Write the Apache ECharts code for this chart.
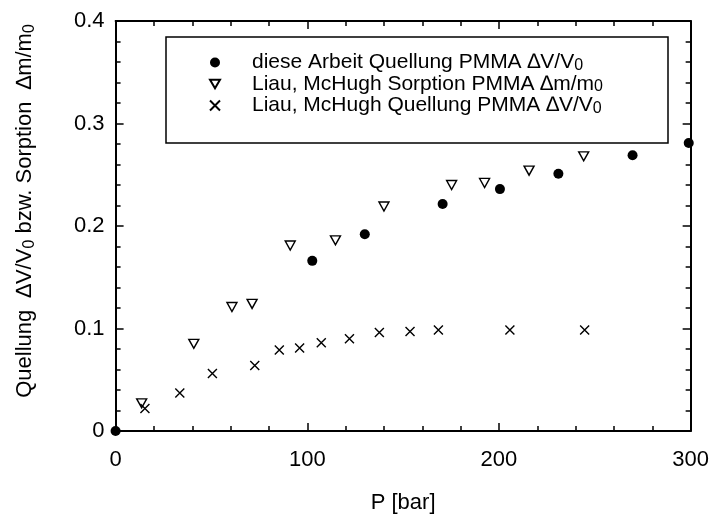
<!DOCTYPE html>
<html>
<head>
<meta charset="utf-8">
<script src="https://cdn.jsdelivr.net/npm/echarts@6/dist/echarts.min.js"></script>
<style>html,body{margin:0;padding:0;background:#fff;}#chart{width:712px;height:519px;}</style>
</head>
<body>
<div id="chart"></div>
<script>
// ---- data ----
const xTicks = [0, 100, 200, 300];
const yTicks = [0, 0.1, 0.2, 0.3, 0.4];

const arbeitP = [0, 102.6, 130, 170.6, 200.5, 231, 269.7, 299];
const arbeitV = [0, 0.166, 0.192, 0.2215, 0.236, 0.251, 0.269, 0.281];

const sorptionP = [13.6, 40.8, 60.7, 71.2, 91.1, 114.7, 140, 175.3, 192.5, 215.7, 244.2];
const sorptionV = [0.027, 0.085, 0.121, 0.124, 0.181, 0.186, 0.219, 0.240, 0.242, 0.254, 0.268];

const quellP = [15.3, 33.5, 50.5, 72.6, 85.4, 96, 107.3, 122, 137.6, 153.6, 168.4, 205.7, 244.7];
const quellV = [0.022, 0.037, 0.056, 0.064, 0.079, 0.081, 0.086, 0.090, 0.096, 0.097, 0.0985, 0.0985, 0.0985];

const seriesNames = [
  'diese Arbeit Quellung PMMA',
  'Liau, McHugh Sorption PMMA',
  'Liau, McHugh Quellung PMMA'
];
const seriesSuffix = [
  ['∆V/V', '0'],
  ['∆m/m', '0'],
  ['∆V/V', '0']
];

const zip = (a, b) => a.map((v, i) => [v, b[i]]);

const FONT = 'Liberation Sans, Arial, Helvetica, sans-serif';
const chart = echarts.init(document.getElementById('chart'), null, {renderer: 'canvas'});

const axisCommon = {
  axisLine: {show: true, onZero: false, lineStyle: {color: '#000', width: 2}},
  axisTick: {show: true, inside: true, length: 8, lineStyle: {color: '#000', width: 1.5}},
  minorTick: {show: true, splitNumber: 5, length: 5, lineStyle: {color: '#000', width: 1.5}},
  splitLine: {show: false},
  minorSplitLine: {show: false}
};

const option = {
  animation: false,
  backgroundColor: '#fff',
  textStyle: {fontFamily: FONT},
  grid: {left: 115.6, right: 20, top: 21, bottom: 82.5, containLabel: false},
  graphic: [{
    type: 'rect',
    shape: {x: 166, y: 37, width: 502, height: 106},
    style: {fill: 'none', stroke: '#000', lineWidth: 1.5},
    z: 10
  }],
  legend: {
    show: true,
    orient: 'vertical',
    left: 209,
    top: 52,
    padding: 0,
    itemGap: 0,
    itemWidth: 10,
    itemHeight: 10,
    data: seriesNames,
    formatter: function (name) {
      const i = seriesNames.indexOf(name);
      return '{sp|}{t|' + name + ' ' + seriesSuffix[i][0] + '}{s|' + seriesSuffix[i][1] + '}';
    },
    textStyle: {
      fontFamily: FONT,
      color: '#000',
      rich: {
        sp: {width: 27, lineHeight: 22},
        t: {fontSize: 21, fontFamily: FONT, color: '#000', lineHeight: 22, verticalAlign: 'middle'},
        s: {fontSize: 16, fontFamily: FONT, color: '#000', lineHeight: 12, verticalAlign: 'bottom'}
      }
    }
  },
  xAxis: [
    Object.assign({}, axisCommon, {
      type: 'value', position: 'bottom', min: xTicks[0], max: xTicks[xTicks.length - 1], interval: 100,
      name: 'P [bar]', nameLocation: 'middle', nameGap: 61,
      nameTextStyle: {fontSize: 22, color: '#000', fontFamily: FONT},
      axisLabel: {show: true, margin: 18, fontSize: 22, color: '#000', fontFamily: FONT}
    }),
    Object.assign({}, axisCommon, {
      type: 'value', position: 'top', min: xTicks[0], max: xTicks[xTicks.length - 1], interval: 100,
      axisLabel: {show: false}
    })
  ],
  yAxis: [
    Object.assign({}, axisCommon, {
      type: 'value', position: 'left', min: yTicks[0], max: yTicks[yTicks.length - 1], interval: 0.1,
      name: '{t|Quellung  ∆V/V}{s|0}{t| bzw. Sorption  ∆m/m}{s|0}',
      nameLocation: 'middle', nameGap: 78, nameRotate: 90,
      nameTextStyle: {
        fontFamily: FONT, color: '#000',
        padding: [0, 0, 0, 30],
        rich: {
          t: {fontSize: 22, fontFamily: FONT, color: '#000', lineHeight: 26, verticalAlign: 'middle'},
          s: {fontSize: 16, fontFamily: FONT, color: '#000', lineHeight: 14, verticalAlign: 'bottom'}
        }
      },
      axisLabel: {show: true, margin: 11, fontSize: 22, color: '#000', fontFamily: FONT,
        formatter: v => String(+v.toFixed(2))}
    }),
    Object.assign({}, axisCommon, {
      type: 'value', position: 'right', min: yTicks[0], max: yTicks[yTicks.length - 1], interval: 0.1,
      axisLabel: {show: false}
    })
  ],
  series: [
    {
      name: seriesNames[0], type: 'scatter', xAxisIndex: 0, yAxisIndex: 0,
      data: zip(arbeitP, arbeitV), symbol: 'circle', symbolSize: 10, clip: true,
      itemStyle: {color: '#000', borderColor: '#000', borderWidth: 0, opacity: 1}
    },
    {
      name: seriesNames[1], type: 'scatter', xAxisIndex: 0, yAxisIndex: 0,
      data: zip(sorptionP, sorptionV), symbol: 'path://M0,0L10,0L5,8.66Z', symbolSize: [10, 9], clip: true,
      itemStyle: {color: '#fff', borderColor: '#000', borderWidth: 1.4, opacity: 1}
    },
    {
      name: seriesNames[2], type: 'scatter', xAxisIndex: 0, yAxisIndex: 0,
      data: zip(quellP, quellV), symbol: 'path://M0,0L10,10M10,0L0,10', symbolSize: 9, clip: true,
      itemStyle: {color: 'rgba(0,0,0,0)', borderColor: '#000', borderWidth: 1.4, opacity: 1}
    }
  ]
};
chart.setOption(option);
</script>
</body>
</html>
